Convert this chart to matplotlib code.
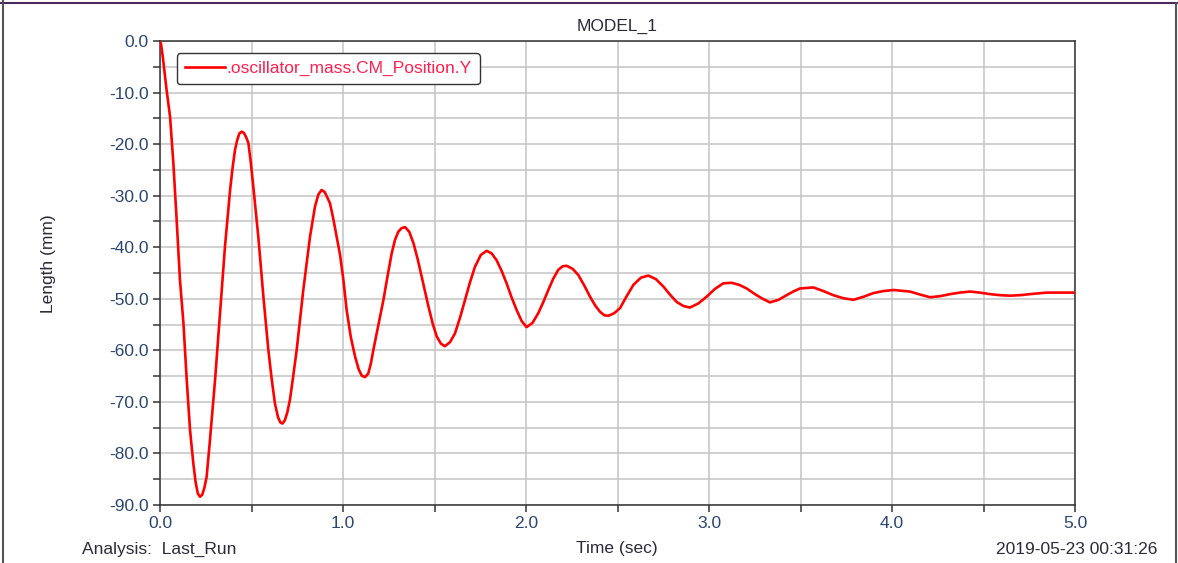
import matplotlib
matplotlib.use('Agg')
import matplotlib.pyplot as plt
from matplotlib.lines import Line2D

# values (time in sec, position in mm)
time_sec = [0.000, 0.005, 0.015, 0.036, 0.055, 0.073, 0.091, 0.109, 0.128, 0.146,
            0.164, 0.182, 0.195, 0.207, 0.219, 0.231, 0.243, 0.255, 0.273, 0.301,
            0.328, 0.355, 0.383, 0.397, 0.410, 0.422, 0.434, 0.446, 0.458, 0.470,
            0.483, 0.496, 0.510, 0.537, 0.565, 0.592, 0.610, 0.628, 0.645, 0.658,
            0.669, 0.682, 0.696, 0.710, 0.728, 0.747, 0.783, 0.820, 0.847, 0.865,
            0.883, 0.900, 0.915, 0.929, 0.947, 0.965, 0.984, 1.002, 1.020, 1.043,
            1.066, 1.085, 1.102, 1.120, 1.138, 1.152, 1.166, 1.194, 1.221, 1.244,
            1.266, 1.284, 1.302, 1.320, 1.339, 1.362, 1.385, 1.408, 1.430, 1.467,
            1.490, 1.512, 1.535, 1.557, 1.585, 1.612, 1.640, 1.667, 1.694, 1.721,
            1.753, 1.785, 1.812, 1.839, 1.867, 1.894, 1.921, 1.949, 1.976, 2.003,
            2.035, 2.067, 2.095, 2.122, 2.149, 2.176, 2.200, 2.222, 2.255, 2.286,
            2.318, 2.350, 2.378, 2.404, 2.428, 2.450, 2.482, 2.514, 2.550, 2.587,
            2.628, 2.669, 2.710, 2.750, 2.787, 2.823, 2.860, 2.896, 2.942, 2.987,
            3.032, 3.078, 3.124, 3.165, 3.206, 3.247, 3.288, 3.333, 3.380, 3.424,
            3.460, 3.497, 3.570, 3.625, 3.679, 3.735, 3.789, 3.845, 3.898, 3.953,
            4.008, 4.098, 4.155, 4.208, 4.262, 4.317, 4.372, 4.426, 4.480, 4.536,
            4.590, 4.645, 4.700, 4.754, 4.845, 4.920, 5.000]
position_mm = [0.0, -0.5, -3.0, -9.5, -14.7, -23.7, -34.7, -46.3, -54.7, -65.7,
               -75.4, -81.9, -85.7, -87.8, -88.4, -88.0, -86.6, -84.5, -77.4, -65.7,
               -52.8, -39.9, -28.9, -24.5, -21.1, -19.2, -17.9, -17.6, -17.8, -18.6,
               -19.8, -23.5, -28.3, -37.9, -49.6, -59.9, -65.5, -70.3, -73.0, -74.0,
               -74.2, -73.6, -72.0, -69.6, -65.0, -59.9, -48.3, -37.9, -32.1, -29.8,
               -28.9, -29.3, -30.4, -31.5, -34.5, -37.9, -41.5, -46.3, -52.2, -57.5,
               -61.2, -63.6, -64.9, -65.2, -64.5, -62.6, -59.9, -55.0, -50.2, -45.5,
               -41.2, -38.6, -37.0, -36.3, -36.1, -37.0, -39.2, -42.3, -45.7, -51.5,
               -54.8, -57.3, -58.7, -59.2, -58.4, -56.7, -53.6, -50.2, -46.8, -43.8,
               -41.5, -40.7, -41.2, -42.5, -44.6, -47.0, -49.7, -52.2, -54.3, -55.5,
               -54.7, -52.8, -50.6, -48.3, -46.1, -44.4, -43.7, -43.6, -44.2, -45.4,
               -47.4, -49.6, -51.3, -52.5, -53.2, -53.3, -52.8, -51.8, -49.5, -47.3,
               -45.9, -45.5, -46.2, -47.6, -49.2, -50.6, -51.4, -51.7, -50.9, -49.6,
               -48.1, -47.0, -46.9, -47.3, -48.0, -49.0, -49.9, -50.7, -50.2, -49.3,
               -48.6, -48.0, -47.8, -48.5, -49.3, -49.9, -50.2, -49.6, -48.9, -48.5,
               -48.3, -48.6, -49.2, -49.7, -49.5, -49.1, -48.8, -48.6, -48.8, -49.1,
               -49.3, -49.4, -49.3, -49.1, -48.8, -48.8, -48.8]

x_ticks = [0.0, 1.0, 2.0, 3.0, 4.0, 5.0]
y_ticks = [0.0, -10.0, -20.0, -30.0, -40.0, -50.0, -60.0, -70.0, -80.0, -90.0]

plt.rcParams['font.family'] = ['Liberation Sans', 'DejaVu Sans']
fs = 12.5
txt_col = '#2a2a3a'

fig = plt.figure(figsize=(11.78, 5.63), dpi=100)
ax = fig.add_axes([160/1178, 1-505/563, 915/1178, 464/563])

ax.plot(time_sec, position_mm, color='#ff0000', lw=1.9, solid_joinstyle='round',
        label='.oscillator_mass.CM_Position.Y', zorder=3)

ax.set_xlim(0, 5)
ax.set_ylim(-90, 0)
ax.set_xticks(x_ticks)
ax.set_xticklabels(['%.1f' % v for v in x_ticks])
ax.set_yticks(y_ticks)
ax.set_yticklabels(['%.1f' % v for v in y_ticks])
ax.set_xticks([0.5, 1.5, 2.5, 3.5, 4.5], minor=True)
ax.set_yticks([-5, -15, -25, -35, -45, -55, -65, -75, -85], minor=True)
ax.grid(True, which='both', color='#c4c4c4', lw=1.1)
ax.set_axisbelow(True)

ax.tick_params(which='both', direction='out', length=5, width=1.1, color='#333333',
               labelsize=fs, labelcolor='#2a4670', pad=3)
for s in ax.spines.values():
    s.set_color('#333333')
    s.set_linewidth(1.1)

ax.set_title('MODEL_1', fontsize=fs, color=txt_col, pad=7)
ax.set_ylabel('Length (mm)', fontsize=fs, color=txt_col)
ax.yaxis.set_label_coords((56-160)/915, 0.52)

fig.text(82/1178, 1-549/563, 'Analysis:  Last_Run', fontsize=fs, color=txt_col,
         ha='left', va='center')
fig.text(617/1178, 1-549/563, 'Time (sec)', fontsize=fs, color=txt_col,
         ha='center', va='center')
fig.text(1157/1178, 1-549/563, '2019-05-23 00:31:26', fontsize=fs, color=txt_col,
         ha='right', va='center')

leg = ax.legend(loc='upper left', bbox_to_anchor=(0.0186, 0.974), borderaxespad=0,
                fontsize=fs, handlelength=2.3, handletextpad=0.1, frameon=True,
                fancybox=True, framealpha=1, edgecolor='#333333', borderpad=0.45)
leg.get_frame().set_linewidth(1.0)
for t in leg.get_texts():
    t.set_color('#ff2050')

# window frame around the plot
fig.add_artist(Line2D([0, 1], [1-2.5/563, 1-2.5/563], color='#4a2a5a', lw=1.5))
fig.add_artist(Line2D([2.5/1178, 2.5/1178], [0, 1], color='#555555', lw=1.5))
fig.add_artist(Line2D([1176/1178, 1176/1178], [0, 1-2.5/563], color='#555555', lw=1.5))

fig.savefig('out.png', dpi=100)
